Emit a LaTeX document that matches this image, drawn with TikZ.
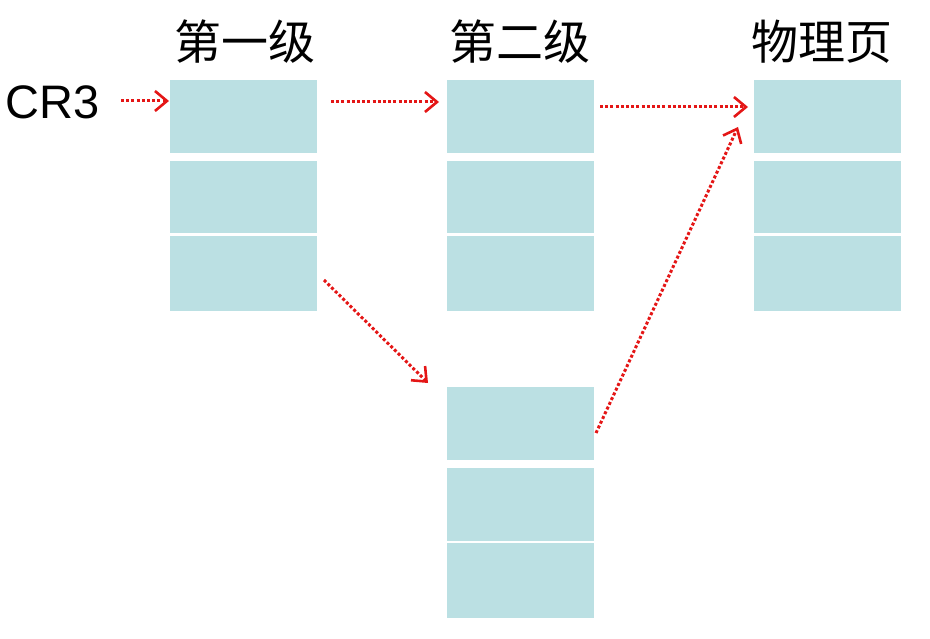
\documentclass[tikz,border=0pt]{standalone}
\usepackage{fontspec}
\setmainfont{Liberation Sans}
\newfontfamily\cjk{Noto Sans CJK SC}
\usetikzlibrary{arrows.meta}
\definecolor{cellfill}{RGB}{187,224,227}
\definecolor{arrred}{RGB}{228,22,22}
\begin{document}
\begin{tikzpicture}[x=1pt,y=-1pt,
  cell/.style={fill=cellfill, draw=none, minimum width=147pt, inner sep=0pt, outer sep=0pt},
  ptr/.style={arrred, line width=3pt, dash pattern=on 3pt off 2.2pt,
    -{Straight Barb[length=12pt,width=20pt,line width=2.6pt]}},
  title/.style={font=\cjk\fontsize{47}{52}\selectfont, inner sep=0pt}
]
\useasboundingbox (0,0) rectangle (930,639);
% level 1
\node[cell, minimum height=73pt] (a1) at (243.5,116.5) {};
\node[cell, minimum height=72pt] (a2) at (243.5,197) {};
\node[cell, minimum height=75pt] (a3) at (243.5,273.5) {};
% level 2 (top)
\node[cell, minimum height=73pt] (b1) at (520,116.5) {};
\node[cell, minimum height=72pt] (b2) at (520,197) {};
\node[cell, minimum height=75pt] (b3) at (520,273.5) {};
% physical page
\node[cell, minimum height=73pt] (c1) at (827.5,116.5) {};
\node[cell, minimum height=72pt] (c2) at (827.5,197) {};
\node[cell, minimum height=75pt] (c3) at (827.5,273.5) {};
% level 2 (bottom)
\node[cell, minimum height=73pt] (d1) at (520,423.5) {};
\node[cell, minimum height=73pt] (d2) at (520,504.5) {};
\node[cell, minimum height=75pt] (d3) at (520,580.5) {};
% titles
\node[title] (t1) at (245,42) {第一级};
\node[title] (t2) at (520,42) {第二级};
\node[title] (t3) at (822,42) {物理页};
\node[font=\fontsize{47}{52}\selectfont, inner sep=0pt] (cr3) at (53,102) {CR3};
% connectors
\coordinate (s1) at (121,101);
\coordinate (e1) at (169,101);
\coordinate (s2) at (331,102);
\coordinate (e2) at (439,102);
\coordinate (s3) at (600,107);
\coordinate (e3) at (748,107);
\coordinate (s4) at (596,433);
\coordinate (e4) at (738,127);
\coordinate (s5) at (324,280);
\coordinate (e5) at (428,383);
\draw[ptr] (s1) -- (e1);
\draw[ptr] (s2) -- (e2);
\draw[ptr] (s3) -- (e3);
\draw[ptr] (s4) -- (e4);
\draw[ptr] (s5) -- (e5);
\end{tikzpicture}
\end{document}
